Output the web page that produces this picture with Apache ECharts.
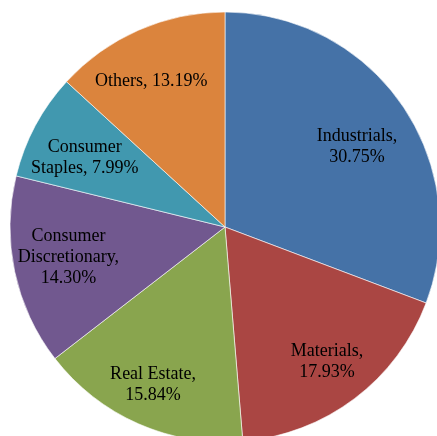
<!DOCTYPE html>
<html>
<head>
<meta charset="utf-8">
<script src="https://cdn.jsdelivr.net/npm/echarts@6/dist/echarts.min.js"></script>
<style>
html,body{margin:0;padding:0;background:#fff;}
#chart{width:437px;height:436px;}
</style>
</head>
<body>
<div id="chart"></div>
<script>
var categories = ["Industrials", "Materials", "Real Estate", "Consumer Discretionary", "Consumer Staples", "Others"];
var values = [30.75, 17.93, 15.84, 14.30, 7.99, 13.19];
var labelTexts = ["Industrials,\n30.75%", "Materials,\n17.93%", "Real Estate,\n15.84%", "Consumer\nDiscretionary,\n14.30%", "Consumer\nStaples, 7.99%", "Others, 13.19%"];
var colors = ["#4572A7", "#AA4643", "#89A54E", "#71588F", "#4198AF", "#DB843D"];

// layout only: which labels sit on the inner label ring, and small label nudges (px)
var innerLabelSet = { "Industrials": 1, "Consumer Discretionary": 1, "Consumer Staples": 1 };
var labelNudge = { "Industrials": [2, 10], "Materials": [-1, -2], "Real Estate": [-3, 1],
                   "Consumer Discretionary": [-2, -3], "Consumer Staples": [-1, 5], "Others": [-5, 11] };

var pieData = categories.map(function (c, i) {
  return { name: c, value: values[i], itemStyle: { color: colors[i] } };
});
function labelData(inner) {
  return categories.map(function (c, i) {
    var show = inner ? !!innerLabelSet[c] : !innerLabelSet[c];
    return { name: c, value: values[i], label: { show: show, formatter: labelTexts[i] } };
  });
}
var labelStyle = {
  position: 'inside',
  color: '#000',
  fontFamily: 'Liberation Serif, Times New Roman, serif',
  fontSize: 18,
  lineHeight: 21,
  align: 'center'
};
function labelSeries(inner, r0, r1) {
  return {
    type: 'pie',
    center: [225, 227],
    radius: [r0, r1],
    startAngle: 90,
    clockwise: true,
    silent: true,
    itemStyle: { color: 'rgba(0,0,0,0)' },
    label: labelStyle,
    labelLine: { show: false },
    labelLayout: function (p) {
      var n = labelNudge[categories[p.dataIndex]] || [0, 0];
      return { dx: n[0], dy: n[1] };
    },
    data: labelData(inner)
  };
}

var chart = echarts.init(document.getElementById('chart'), null, { renderer: 'canvas' });
chart.setOption({
  animation: false,
  backgroundColor: '#ffffff',
  series: [
    {
      type: 'pie',
      center: [225, 227],
      radius: [0, 215],
      startAngle: 90,
      clockwise: true,
      silent: true,
      label: { show: false },
      labelLine: { show: false },
      itemStyle: { borderColor: '#ffffff', borderWidth: 0.6 },
      data: pieData
    },
    labelSeries(true, 110, 200),
    labelSeries(false, 130, 206)
  ]
});
</script>
</body>
</html>
